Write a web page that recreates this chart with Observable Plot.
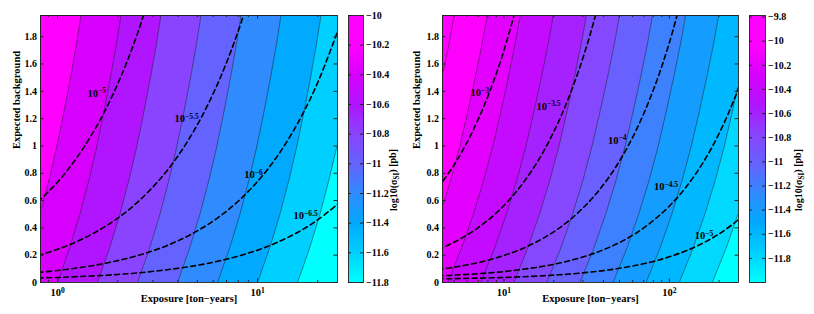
<!DOCTYPE html>
<html><head><meta charset="utf-8">
<script src="https://cdn.jsdelivr.net/npm/d3@7"></script>
<script src="https://cdn.jsdelivr.net/npm/@observablehq/plot@0.6"></script>
<style>
body{margin:0;background:#fff;}
#wrap{position:relative;width:814px;height:314px;overflow:hidden;background:#fff;}
#wrap svg{position:absolute;top:0;}
</style></head><body><div id="wrap"></div>
<script>
// ---------- data ----------
const yTicks = [0, 0.2, 0.4, 0.6, 0.8, 1, 1.2, 1.4, 1.6, 1.8];
const Y_MAX = 1.955;

// Left panel: log10(sigma_SI) sampled on a grid (exposure columns x background rows)
const leftExposure = [0.5623, 1, 1.778, 3.162, 5.623, 10, 17.78, 31.62];
const leftBackground = [-0.1, 0, 0.25, 0.5, 0.75, 1, 1.25, 1.5, 1.75, 2.0];
const leftLogSigma = [
  [-10.176, -10.426, -10.676, -10.926, -11.176, -11.426, -11.676, -11.926],
  [-10.150, -10.400, -10.650, -10.900, -11.150, -11.400, -11.650, -11.900],
  [-10.090, -10.340, -10.590, -10.840, -11.090, -11.340, -11.590, -11.840],
  [-10.038, -10.288, -10.538, -10.788, -11.038, -11.288, -11.538, -11.788],
  [ -9.993, -10.243, -10.493, -10.743, -10.993, -11.243, -11.493, -11.743],
  [ -9.953, -10.203, -10.453, -10.703, -10.953, -11.203, -11.453, -11.703],
  [ -9.918, -10.168, -10.418, -10.668, -10.918, -11.168, -11.418, -11.668],
  [ -9.885, -10.135, -10.385, -10.635, -10.885, -11.135, -11.385, -11.635],
  [ -9.855, -10.105, -10.355, -10.605, -10.855, -11.105, -11.355, -11.605],
  [ -9.828, -10.078, -10.328, -10.578, -10.828, -11.078, -11.328, -11.578]
];
const leftLevels = [-11.6, -11.4, -11.2, -11.0, -10.8, -10.6, -10.4, -10.2];
const leftColorRange = [-11.8, -10];
const leftXDomain = [0.822, 25.1];
const leftXMajor = [1, 10];
const leftXMinor = [0.9, 2, 3, 4, 5, 6, 7, 8, 9, 20];
const leftCbTicks = [-11.8, -11.6, -11.4, -11.2, -11, -10.8, -10.6, -10.4, -10.2, -10];

// Left dashed curves (background vs exposure)
const leftCurveExposure = [0.8, 1, 1.25, 1.6, 2, 2.5, 3.2, 4, 5, 6.3, 8, 10, 12.5, 16, 20, 25.5];
const leftCurve5   = [0.591, 0.735, 0.915, 1.167, 1.455, 1.815, 2.319];
const leftCurve55  = [0.197, 0.243, 0.300, 0.380, 0.471, 0.585, 0.745, 0.927, 1.155, 1.451, 1.839, 2.295];
const leftCurve6   = [0.073, 0.088, 0.106, 0.131, 0.160, 0.196, 0.247, 0.305, 0.378, 0.472, 0.595, 0.740, 0.921, 1.175, 1.465, 1.864];
const leftCurve65  = [0.033, 0.037, 0.043, 0.050, 0.059, 0.070, 0.086, 0.104, 0.126, 0.155, 0.193, 0.237, 0.293, 0.370, 0.459, 0.581];
const leftLabelText = ["10^−5", "10^−5.5", "10^−6", "10^−6.5"];
const leftLabelExposure = [1.57, 4.42, 9.55, 17.4];
const leftLabelBackground = [1.385, 1.20, 0.79, 0.49];

// Right panel
const rightExposure = [3.162, 5.623, 10, 17.78, 31.62, 56.23, 100, 177.8, 316.2];
const rightBackground = [-0.1, 0, 0.25, 0.5, 0.75, 1, 1.25, 1.5, 1.75, 2.0];
const rightLogSigma = [
  [-10.076, -10.326, -10.576, -10.826, -11.076, -11.326, -11.576, -11.826, -12.076],
  [-10.040, -10.290, -10.540, -10.790, -11.040, -11.290, -11.540, -11.790, -12.040],
  [ -9.957, -10.207, -10.457, -10.707, -10.957, -11.207, -11.457, -11.707, -11.957],
  [ -9.885, -10.135, -10.385, -10.635, -10.885, -11.135, -11.385, -11.635, -11.885],
  [ -9.822, -10.072, -10.322, -10.572, -10.822, -11.072, -11.322, -11.572, -11.822],
  [ -9.767, -10.017, -10.267, -10.517, -10.767, -11.017, -11.267, -11.517, -11.767],
  [ -9.719,  -9.969, -10.219, -10.469, -10.719, -10.969, -11.219, -11.469, -11.719],
  [ -9.674,  -9.924, -10.174, -10.424, -10.674, -10.924, -11.174, -11.424, -11.674],
  [ -9.632,  -9.882, -10.132, -10.382, -10.632, -10.882, -11.132, -11.382, -11.632],
  [ -9.595,  -9.845, -10.095, -10.345, -10.595, -10.845, -11.095, -11.345, -11.595]
];
const rightLevels = [-11.8, -11.6, -11.4, -11.2, -11.0, -10.8, -10.6, -10.4, -10.2, -10.0, -9.8];
const rightColorRange = [-12.0, -9.787];
const rightXDomain = [4.25, 262];
const rightXMajor = [10, 100];
const rightXMinor = [5, 6, 7, 8, 9, 20, 30, 40, 50, 60, 70, 80, 90, 200];
const rightCbTicks = [-11.8, -11.6, -11.4, -11.2, -11, -10.8, -10.6, -10.4, -10.2, -10, -9.8];

const rightCurveExposure = [4, 5, 6.3, 8, 10, 12.5, 16, 20, 25, 32, 40, 50, 63, 80, 100, 125, 160, 200, 250, 270];
const rightCurve3  = [0.695, 0.862, 1.080, 1.364, 1.699, 2.118];
const rightCurve35 = [0.241, 0.295, 0.365, 0.456, 0.564, 0.699, 0.887, 1.103, 1.373, 1.750, 2.181];
const rightCurve4  = [0.094, 0.112, 0.134, 0.163, 0.198, 0.241, 0.302, 0.371, 0.458, 0.579, 0.717, 0.890, 1.115, 1.409, 1.755, 2.188];
const rightCurve45 = [0.048, 0.054, 0.061, 0.070, 0.080, 0.094, 0.112, 0.133, 0.160, 0.197, 0.240, 0.293, 0.362, 0.453, 0.559, 0.692, 0.878, 1.091, 1.357, 1.463];
const rightCurve5  = [0.027, 0.028, 0.031, 0.033, 0.037, 0.041, 0.047, 0.054, 0.062, 0.074, 0.087, 0.104, 0.126, 0.154, 0.188, 0.230, 0.289, 0.356, 0.440, 0.474];
const rightLabelText = ["10^−3", "10^−3.5", "10^−4", "10^−4.5", "10^−5"];
const rightLabelExposure = [7.13, 18.6, 48.4, 95.5, 162];
const rightLabelBackground = [1.39, 1.29, 1.04, 0.70, 0.34];

// colormap (cyan -> blue -> purple -> magenta)
const COLOR_T = [0, 0.11, 0.22, 0.33, 0.44, 0.555, 0.665, 0.78, 0.89, 1];
const COLORS = ["#00ffff", "#00d0ff", "#00aaff", "#2e8cff", "#6464ff", "#8a44ff", "#b014ff", "#d800ff", "#ff00ff", "#ff00ff"];

// ---------- helpers ----------
const FONT = '"Liberation Serif", "Times New Roman", serif';
const TOP = 15, BOTTOM = 32, HEIGHT = 314;
const colorScale = (r) => ({type: "linear", domain: COLOR_T.map(t => r[0] + t * (r[1] - r[0])), range: COLORS, clamp: true, interpolate: "rgb"});
const gridTable = (cols, rows, m) => rows.flatMap((b, i) => cols.map((E, j) => ({E, b, v: m[i][j]})));
const curveTable = (ex, curves) => curves.flatMap((vals, k) => vals.map((b, i) => ({E: ex[i], b, id: k})));
const labelTable = (t, e, b) => t.map((s, i) => ({t: s, E: e[i], b: b[i]}));
const fmtY = d => String(+d.toFixed(1));
const fmtPow = d => "10^" + Math.round(Math.log10(d));
const fmtCb = d => "−" + String(Math.abs(Math.round(d * 10) / 10));
const baseStyle = {fontFamily: FONT, fontWeight: "bold", fontSize: "10px", color: "#000", background: "transparent", overflow: "visible"};

function mainPanel(cfg) {
  const W = cfg.width - cfg.marginLeft - cfg.marginRight;
  const H = HEIGHT - TOP - BOTTOM;
  return Plot.plot({
    width: cfg.width, height: HEIGHT,
    marginLeft: cfg.marginLeft, marginRight: cfg.marginRight, marginTop: TOP, marginBottom: BOTTOM,
    style: baseStyle,
    x: {type: "log", domain: cfg.xDomain, axis: null},
    y: {domain: [0, Y_MAX], axis: null},
    color: colorScale(cfg.colorRange),
    marks: [
      Plot.contour(cfg.grid, {x: "E", y: "b", fill: "v", thresholds: [-13, ...cfg.levels], interpolate: "barycentric",
        stroke: "#1a1a1a", strokeWidth: 0.55, strokeOpacity: 0.9, clip: true}),
      Plot.line(cfg.curves, {x: "E", y: "b", z: "id", stroke: "#000", strokeWidth: 1.6, strokeDasharray: "5,3.5", curve: "catmull-rom", clip: true}),
      Plot.text(cfg.labels, {x: "E", y: "b", text: "t", fontSize: 10.5, fill: "#000"}),
      Plot.tickY(yTicks, {y: d => d, insetRight: W - 3.5, stroke: "#222"}),
      Plot.tickY(yTicks, {y: d => d, insetLeft: W - 3.5, stroke: "#222"}),
      Plot.tickX(cfg.xMajor, {x: d => d, insetTop: H - 3.5, stroke: "#222"}),
      Plot.tickX(cfg.xMajor, {x: d => d, insetBottom: H - 3.5, stroke: "#222"}),
      Plot.tickX(cfg.xMinor, {x: d => d, insetTop: H - 2, stroke: "#222"}),
      Plot.tickX(cfg.xMinor, {x: d => d, insetBottom: H - 2, stroke: "#222"}),
      Plot.frame({stroke: "#222", strokeWidth: 0.9}),
      Plot.axisY(yTicks, {tickSize: 0, tickPadding: 3.5, tickFormat: fmtY, fontSize: 10, label: null}),
      Plot.axisX(cfg.xMajor, {tickSize: 0, tickPadding: 6, tickFormat: fmtPow, fontSize: 10.5, label: null}),
      Plot.text(["Exposure [ton−years]"], {frameAnchor: "bottom", dy: 19.5, fontSize: 10.5}),
      Plot.text(["Expected background"], {frameAnchor: "left", dx: cfg.yTitleDx, rotate: -90, fontSize: 10.5})
    ]
  });
}

function colorBar(cfg) {
  return Plot.plot({
    width: cfg.width, height: HEIGHT,
    marginLeft: 8, marginRight: cfg.width - 8 - cfg.barWidth, marginTop: TOP, marginBottom: BOTTOM,
    style: baseStyle,
    x: {domain: [0, 1], axis: null},
    y: {domain: cfg.colorRange, axis: null},
    color: colorScale(cfg.colorRange),
    marks: [
      Plot.raster({x1: 0, x2: 1, y1: cfg.colorRange[0], y2: cfg.colorRange[1], fill: (x, y) => y}),
      Plot.tickY(cfg.ticks, {y: d => d, insetLeft: cfg.barWidth - 3, stroke: "#222"}),
      Plot.tickY(cfg.ticks, {y: d => d, insetRight: cfg.barWidth - 3, stroke: "#222"}),
      Plot.frame({stroke: "#222", strokeWidth: 0.9}),
      Plot.axisY(cfg.ticks, {anchor: "right", tickSize: 0, tickPadding: 2.5, tickFormat: fmtCb, fontSize: 10, label: null}),
      Plot.text(["log10(σ_SI) [pb]"], {frameAnchor: "right", dx: cfg.titleDx, rotate: -90, fontSize: 10})
    ]
  });
}

const NS = "http://www.w3.org/2000/svg";
function richText(svg) {
  svg.querySelectorAll("text").forEach(t => {
    const s = t.textContent;
    if (s.includes("^")) {
      const [a, b] = s.split("^");
      t.textContent = a;
      const ts = document.createElementNS(NS, "tspan");
      ts.setAttribute("dy", "-0.45em"); ts.setAttribute("font-size", "0.72em");
      ts.textContent = b; t.appendChild(ts);
    } else if (s.includes("_")) {
      const [a, rest] = s.split("_");
      const sub = rest.slice(0, 2), tail = rest.slice(2);
      t.textContent = a;
      const t1 = document.createElementNS(NS, "tspan");
      t1.setAttribute("dy", "0.3em"); t1.setAttribute("font-size", "0.72em"); t1.textContent = sub;
      const t2 = document.createElementNS(NS, "tspan");
      t2.setAttribute("dy", "-0.3em"); t2.textContent = tail;
      t.appendChild(t1); t.appendChild(t2);
    }
  });
}

const wrap = document.getElementById("wrap");
function place(svg, left) { richText(svg); svg.style.left = left + "px"; wrap.appendChild(svg); }

place(mainPanel({
  width: 345, marginLeft: 40, marginRight: 8, xDomain: leftXDomain,
  grid: gridTable(leftExposure, leftBackground, leftLogSigma), levels: leftLevels, colorRange: leftColorRange,
  curves: curveTable(leftCurveExposure, [leftCurve5, leftCurve55, leftCurve6, leftCurve65]),
  labels: labelTable(leftLabelText, leftLabelExposure, leftLabelBackground),
  xMajor: leftXMajor, xMinor: leftXMinor, yTitleDx: -24
}), 0);
place(colorBar({width: 60, barWidth: 15, colorRange: leftColorRange, ticks: leftCbTicks, titleDx: 30}), 340);
place(mainPanel({
  width: 346, marginLeft: 42, marginRight: 8, xDomain: rightXDomain,
  grid: gridTable(rightExposure, rightBackground, rightLogSigma), levels: rightLevels, colorRange: rightColorRange,
  curves: curveTable(rightCurveExposure, [rightCurve3, rightCurve35, rightCurve4, rightCurve45, rightCurve5]),
  labels: labelTable(rightLabelText, rightLabelExposure, rightLabelBackground),
  xMajor: rightXMajor, xMinor: rightXMinor, yTitleDx: -26
}), 400);
place(colorBar({width: 73, barWidth: 16, colorRange: rightColorRange, ticks: rightCbTicks, titleDx: 33}), 741);
</script></body></html>
